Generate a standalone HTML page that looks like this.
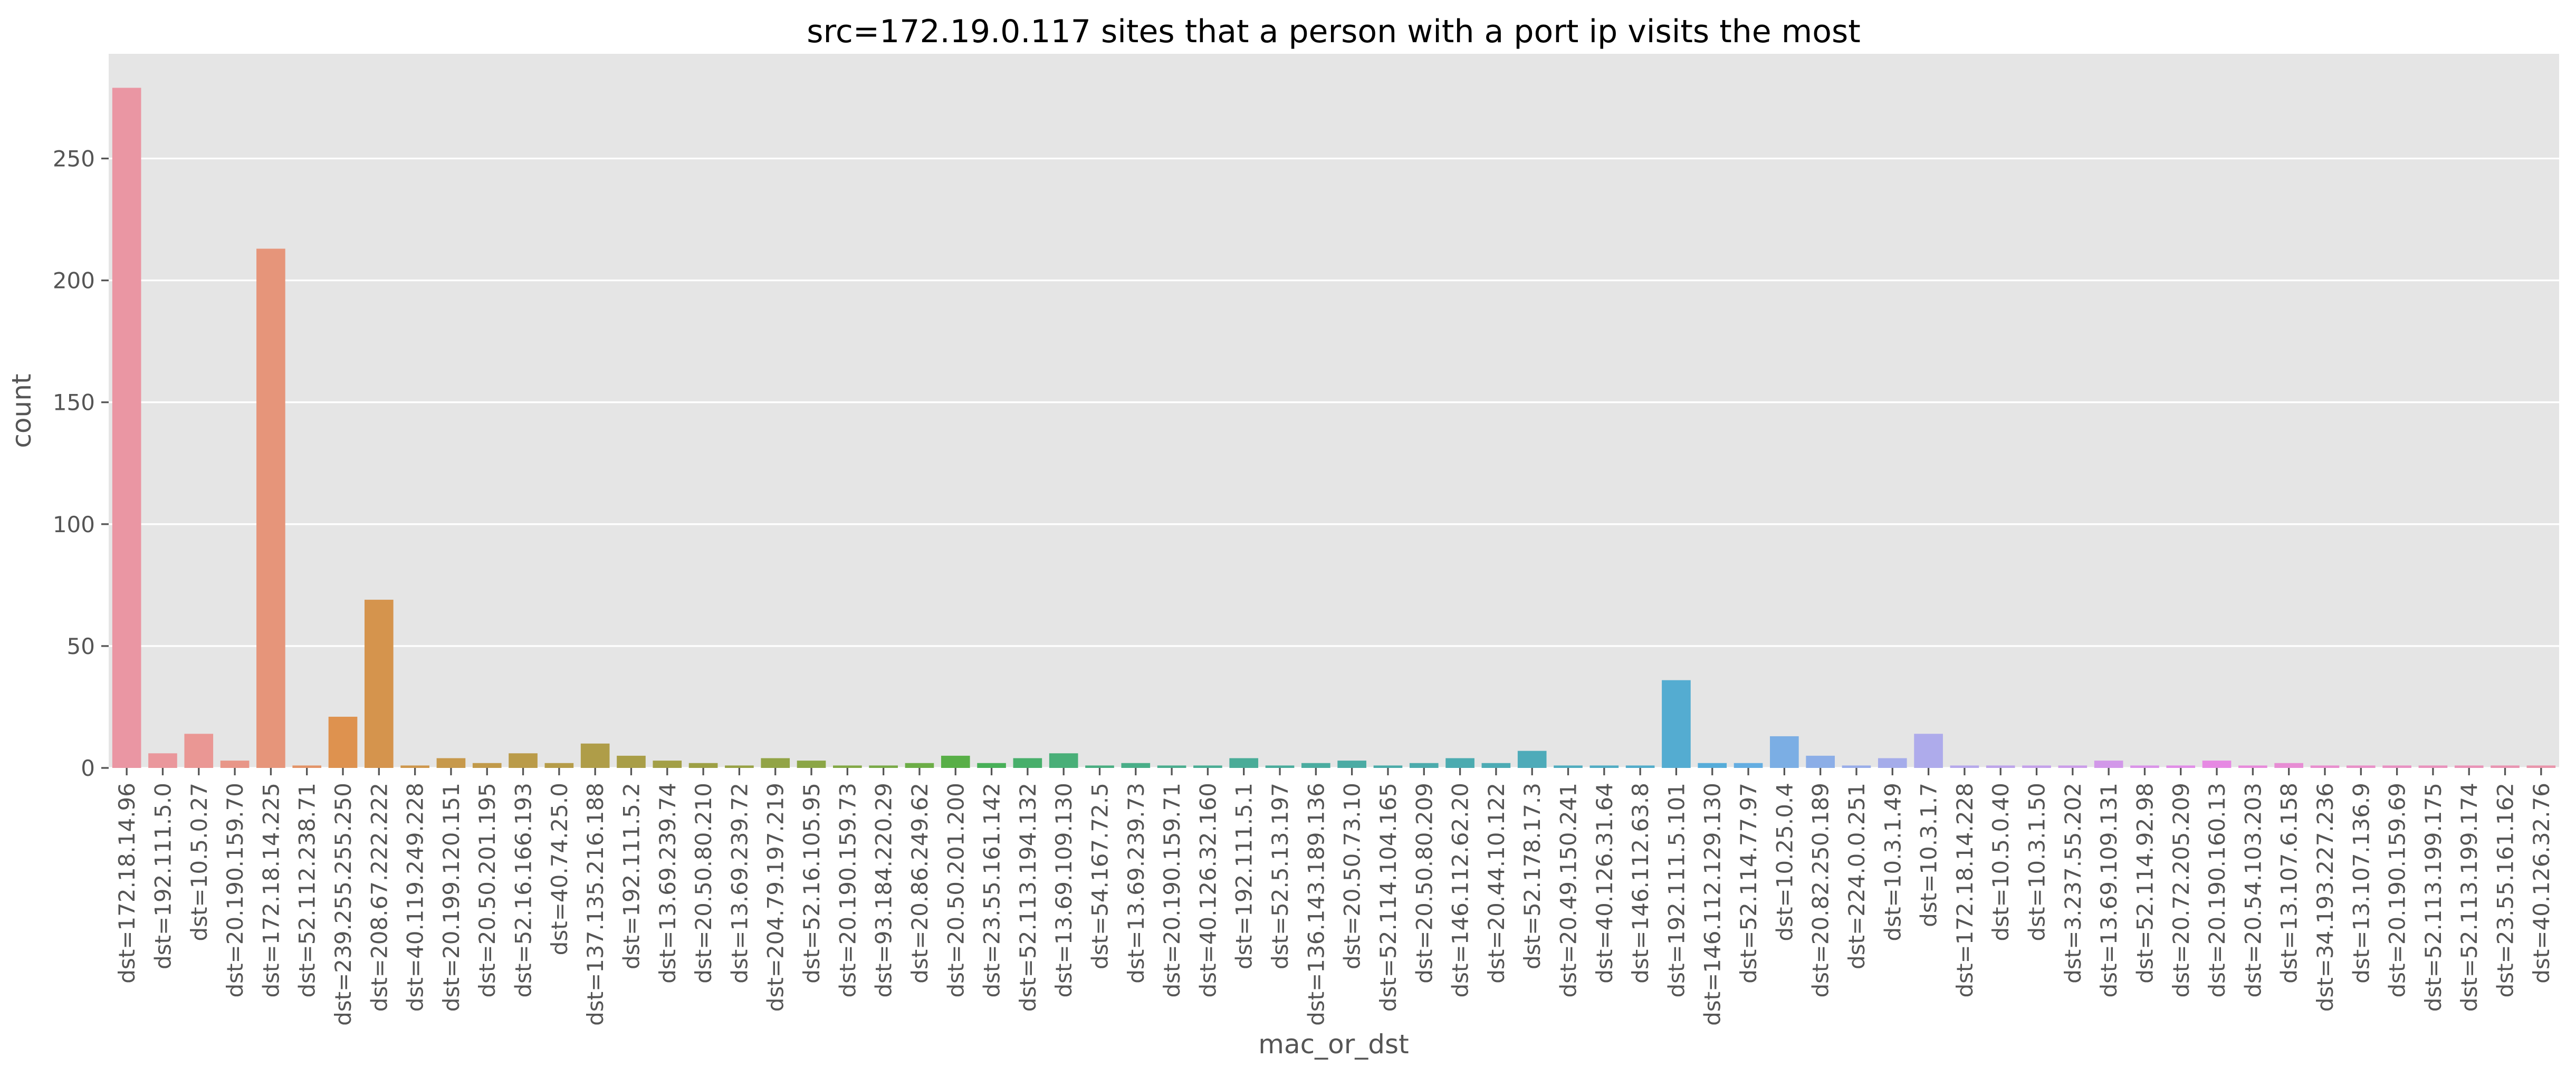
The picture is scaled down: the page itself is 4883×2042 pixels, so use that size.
<!DOCTYPE html>
<html><head><meta charset="utf-8"><style>
html,body{margin:0;padding:0;background:#fff;}
svg{display:block;}
text{font-family:"DejaVu Sans","Liberation Sans",sans-serif;}
</style></head><body>
<svg id="chart" width="4883" height="2042" viewBox="0 0 4883 2042" xmlns="http://www.w3.org/2000/svg">
<rect x="0" y="0" width="4883" height="2042" fill="#ffffff"/>
<rect x="206" y="102" width="4645" height="1354" fill="#e5e5e5"/>
<g id="grid"></g>
<g id="bars"></g>
<g id="yaxis"></g>
<g id="xaxis"></g>
<text x="2528" y="80" font-size="60" text-anchor="middle" fill="#000">src=172.19.0.117 sites that a person with a port ip visits the most</text>
<text x="0" y="0" font-size="50" text-anchor="middle" fill="#555555" transform="translate(58,779) rotate(-90)">count</text>
<text x="2528" y="1997" font-size="50" text-anchor="middle" fill="#555555">mac_or_dst</text>
</svg>
<script>
const categories = ["dst=172.18.14.96","dst=192.111.5.0","dst=10.5.0.27","dst=20.190.159.70","dst=172.18.14.225","dst=52.112.238.71","dst=239.255.255.250","dst=208.67.222.222","dst=40.119.249.228","dst=20.199.120.151","dst=20.50.201.195","dst=52.16.166.193","dst=40.74.25.0","dst=137.135.216.188","dst=192.111.5.2","dst=13.69.239.74","dst=20.50.80.210","dst=13.69.239.72","dst=204.79.197.219","dst=52.16.105.95","dst=20.190.159.73","dst=93.184.220.29","dst=20.86.249.62","dst=20.50.201.200","dst=23.55.161.142","dst=52.113.194.132","dst=13.69.109.130","dst=54.167.72.5","dst=13.69.239.73","dst=20.190.159.71","dst=40.126.32.160","dst=192.111.5.1","dst=52.5.13.197","dst=136.143.189.136","dst=20.50.73.10","dst=52.114.104.165","dst=20.50.80.209","dst=146.112.62.20","dst=20.44.10.122","dst=52.178.17.3","dst=20.49.150.241","dst=40.126.31.64","dst=146.112.63.8","dst=192.111.5.101","dst=146.112.129.130","dst=52.114.77.97","dst=10.25.0.4","dst=20.82.250.189","dst=224.0.0.251","dst=10.3.1.49","dst=10.3.1.7","dst=172.18.14.228","dst=10.5.0.40","dst=10.3.1.50","dst=3.237.55.202","dst=13.69.109.131","dst=52.114.92.98","dst=20.72.205.209","dst=20.190.160.13","dst=20.54.103.203","dst=13.107.6.158","dst=34.193.227.236","dst=13.107.136.9","dst=20.190.159.69","dst=52.113.199.175","dst=52.113.199.174","dst=23.55.161.162","dst=40.126.32.76"];
const counts = [279,6,14,3,213,1,21,69,1,4,2,6,2,10,5,3,2,1,4,3,1,1,2,5,2,4,6,1,2,1,1,4,1,2,3,1,2,4,2,7,1,1,1,36,2,2,13,5,1,4,14,1,1,1,1,3,1,1,3,1,2,1,1,1,1,1,1,1];
const yTicks = [0,50,100,150,200,250];

const NS="http://www.w3.org/2000/svg";
const PL=206, PR=4851, PT=102, PB=1456;
const yMax = Math.max(...counts)*1.05;
function yScale(v){return PB-(v/yMax)*(PB-PT);}
const step=(PR-PL)/categories.length;
function xCenter(i){return PL+step*(i+0.5);}

const M=[[3.2406,-1.5372,-0.4986],[-0.9689,1.8758,0.0415],[0.0557,-0.2040,1.0570]];
const EPS=0.0088564516, KAP=903.2962962, RU=0.19783303699678276, RV=0.46833047435252234;
function maxChroma(L,H){const hr=H/360*2*Math.PI,sh=Math.sin(hr),ch=Math.cos(hr);let s1=Math.pow(L+16,3)/1560896;let s2=s1>EPS?s1:L/KAP;let r=Infinity;
for(const row of M){const [m1,m2,m3]=row;const top=(0.99915*m1+1.05122*m2+1.14460*m3)*s2;const rb=0.86330*m3-0.17266*m2;const lb=0.12949*m3-0.38848*m1;const bot=(rb*sh+lb*ch)*s2;
for(const t of [0,1]){const C=L*(top-1.05122*t)/(bot+0.17266*sh*t);if(C>0&&C<r)r=C;}}return r;}
function huslToRgb(h,s,l){const C=maxChroma(l,h)/100*s;const hr=h/360*2*Math.PI;const U=C*Math.cos(hr),V=C*Math.sin(hr);
const t=(l+16)/116;const Y=(t*t*t>EPS)?t*t*t:(116*t-16)/KAP;const vu=U/(13*l)+RU,vv=V/(13*l)+RV;
const X=-(9*Y*vu)/((vu-4)*vv-vu*vv);const Z=(9*Y-15*vv*Y-vv*X)/(3*vv);
return M.map(r=>{let c=r[0]*X+r[1]*Y+r[2]*Z;c=c<=0.0031308?12.92*c:1.055*Math.pow(c,1/2.4)-0.055;return Math.min(1,Math.max(0,c));});}
function rgbToHls(r,g,b){const mx=Math.max(r,g,b),mn=Math.min(r,g,b);const l=(mx+mn)/2;if(mx===mn)return[0,l,0];const d=mx-mn;const s=l<=0.5?d/(mx+mn):d/(2-mx-mn);
let h;if(mx===r)h=((g-b)/d)%6;else if(mx===g)h=(b-r)/d+2;else h=(r-g)/d+4;h/=6;if(h<0)h+=1;return[h,l,s];}
function hue2(m1,m2,h){h=((h%1)+1)%1;if(h<1/6)return m1+(m2-m1)*h*6;if(h<0.5)return m2;if(h<2/3)return m1+(m2-m1)*(2/3-h)*6;return m1;}
function hlsToRgb(h,l,s){if(s===0)return[l,l,l];const m2=l<=0.5?l*(1+s):l+s-l*s;const m1=2*l-m2;return[hue2(m1,m2,h+1/3),hue2(m1,m2,h),hue2(m1,m2,h-1/3)];}
function paletteColor(i,n){let h=(i/n+0.01)%1;const rgb=huslToRgb(h*359,0.9*99,0.7*99);const [hh,ll,ss]=rgbToHls(...rgb);const o=hlsToRgb(hh,ll,ss*0.75);
return "rgb("+o.map(c=>Math.round(c*255)).join(",")+")";}

const grid=document.getElementById('grid'), bars=document.getElementById('bars'), yaxis=document.getElementById('yaxis'), xaxis=document.getElementById('xaxis');
yTicks.forEach(v=>{const y=yScale(v);
 const g=document.createElementNS(NS,'line');
 
 
 g.setAttribute('x1',PL);g.setAttribute('x2',PR);g.setAttribute('y1',y);g.setAttribute('y2',y);g.setAttribute('stroke','#ffffff');g.setAttribute('stroke-width','3.3');grid.appendChild(g);
 const tk=document.createElementNS(NS,'line');
 
 
 tk.setAttribute('x1',PL-14);tk.setAttribute('x2',PL);tk.setAttribute('y1',y);tk.setAttribute('y2',y);tk.setAttribute('stroke','#555555');tk.setAttribute('stroke-width','3.3');yaxis.appendChild(tk);
 const t=document.createElementNS(NS,'text');
 
 
 t.setAttribute('x',PL-26);t.setAttribute('y',y+15);t.setAttribute('text-anchor','end');t.setAttribute('font-size','42');t.setAttribute('fill','#555555');t.textContent=v;yaxis.appendChild(t);
});
categories.forEach((c,i)=>{const cx=xCenter(i);const bw=step*0.8;const v=counts[i];
 const r=document.createElementNS(NS,'rect');
 
 
 r.setAttribute('x',cx-bw/2);r.setAttribute('y',yScale(v));r.setAttribute('width',bw);r.setAttribute('height',PB-yScale(v));r.setAttribute('fill',paletteColor(i,categories.length));bars.appendChild(r);
 const tk=document.createElementNS(NS,'line');
 
 
 tk.setAttribute('x1',cx);tk.setAttribute('x2',cx);tk.setAttribute('y1',PB);tk.setAttribute('y2',PB+14);tk.setAttribute('stroke','#555555');tk.setAttribute('stroke-width','3.3');xaxis.appendChild(tk);
 const t=document.createElementNS(NS,'text');
 
 
 t.setAttribute('x',0);t.setAttribute('y',0);t.setAttribute('text-anchor','end');t.setAttribute('font-size','42');t.setAttribute('fill','#555555');
 t.setAttribute('transform','translate('+(cx+15)+','+(PB+28)+') rotate(-90)');t.textContent=c;xaxis.appendChild(t);
});
</script>
</body></html>
